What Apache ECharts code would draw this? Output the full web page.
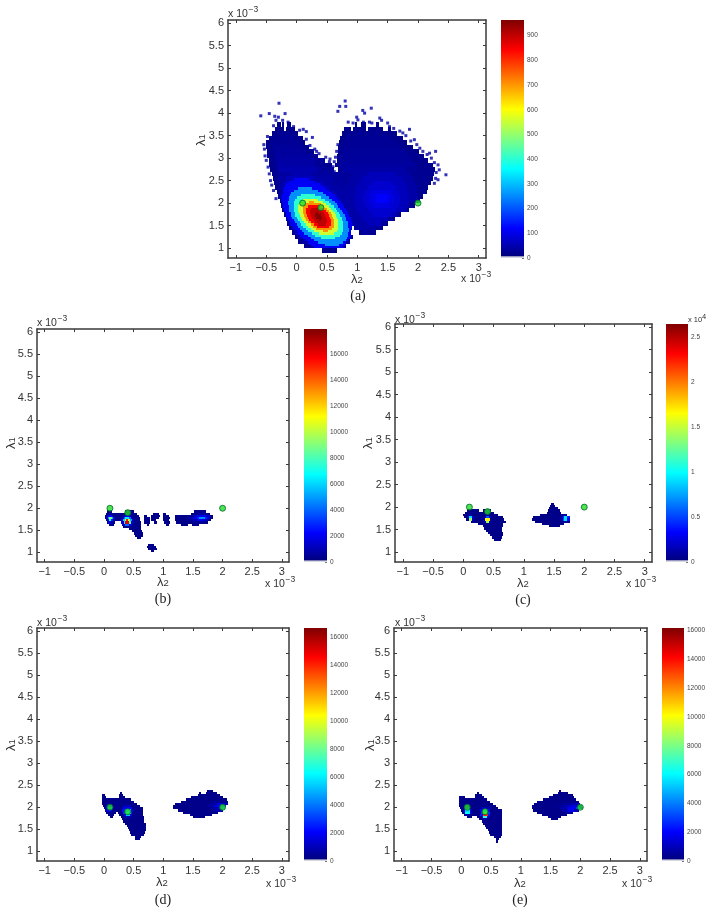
<!DOCTYPE html>
<html>
<head>
<meta charset="utf-8">
<title>lambda histograms</title>
<script src="https://cdn.jsdelivr.net/npm/echarts@6/dist/echarts.min.js"></script>
<style>
html,body{margin:0;padding:0;background:#fff}
#main{width:714px;height:914px;filter:blur(0.6px)}
</style>
</head>
<body>
<div id="main"></div>
<script type="text/javascript">
// tick labels (axes are in units of 1e-3)
var lambda2Ticks = [-1,-0.5,0,0.5,1,1.5,2,2.5,3];
var lambda1Ticks = [1,1.5,2,2.5,3,3.5,4,4.5,5,5.5,6];
var colorTicksA = [0,100,200,300,400,500,600,700,800,900];
var colorTicksB = [0,2000,4000,6000,8000,10000,12000,14000,16000];
var colorTicksC = [0,5000,10000,15000,20000,25000];
var colorTicksD = [0,2000,4000,6000,8000,10000,12000,14000,16000];
var colorTicksE = [0,2000,4000,6000,8000,10000,12000,14000,16000];
var colorMaxA = 963, colorMaxB = 17930, colorMaxC = 26490, colorMaxD = 16670, colorMaxE = 16170;

// the three true (lambda2, lambda1) points
var truePoints = [[0.1,2],[0.4,1.9],[2,2]];

// histogram rows: [lambda1, [lambda2 edge, count, lambda2 edge, count, ..., last edge]]
// panel a, coarse rows (0.1 high)
var rowsA = [
[3.75,[-.32,20,-.26,0,-.24,20,-.2,0,-.16,20,-.1,0,.96,20,1.0,0,1.06,20,1.14,0,1.3,20,1.36]],
[3.65,[-.36,20,-.2,0,-.17,20,-.02,0,.78,25,.9,0,.93,25,1.15,0,1.18,25,1.42,0,1.5,20,1.56]],
[3.55,[-.4,20,-.32,30,-.05,20,.03,0,.75,20,.85,30,1.5,20,1.65]],
[3.45,[-.46,20,-.38,35,0,20,.1,0,.72,20,.8,35,1.55,20,1.75]],
[3.35,[-.5,20,-.42,35,.05,20,.14,0,.7,20,.76,35,1.65,20,1.82]],
[3.25,[-.5,25,-.4,40,.1,25,.2,0,.68,25,.75,35,1.72,20,1.92]],
[3.15,[-.49,25,-.38,45,.16,25,.28,0,.68,25,.75,40,1.8,25,2.02]],
[3.05,[-.48,25,-.36,50,.25,30,.36,0,.66,25,.72,40,1.85,25,2.1]],
[2.95,[-.46,25,-.34,55,.3,35,.46,0,.66,30,.72,45,1.9,25,2.17]],
[2.85,[-.45,25,-.32,60,.3,35,.5,20,.58,0,.64,30,.72,50,1.95,25,2.24]],
[2.75,[-.43,25,-.3,70,.35,40,.58,20,.62,0,.68,30,.75,55,1.15,60,1.8,35,2.0,25,2.28]],
[2.65,[-.41,25,-.3,50,-.1,70,.25,50,.6,40,.93,60,1.16,90,1.64,60,1.87,30,2.27]],
[2.55,[-.39,30,-.3,55,-.18,90,.3,60,.6,40,.88,60,1.07,90,1.73,60,1.92,30,2.25]],
[2.45,[-.37,30,-.28,60,-.2,90,.45,60,.6,45,.85,60,1.02,90,1.25,120,1.55,90,1.78,60,1.95,30,2.22]],
[2.35,[-.35,30,-.28,60,-.22,90,.55,60,.7,50,.82,60,.98,90,1.17,120,1.63,90,1.82,60,1.98,30,2.17]],
[2.25,[-.33,30,-.27,60,-.23,90,.62,60,.81,60,.96,90,1.12,120,1.24,150,1.56,120,1.68,90,1.84,60,1.99,30,2.14]],
[2.15,[-.3,30,-.27,90,.68,60,.8,60,.95,90,1.1,120,1.2,150,1.3,190,1.5,150,1.6,120,1.7,90,1.85,60,2.0,30,2.08]],
[2.05,[-.28,30,-.25,90,.72,60,.8,60,.95,90,1.1,120,1.2,150,1.3,190,1.5,150,1.6,120,1.7,90,1.85,60,1.98,30,2.04]],
[1.95,[-.26,30,-.24,90,.78,60,.81,60,.96,90,1.12,120,1.24,150,1.56,120,1.68,90,1.84,30,1.95]],
[1.85,[-.24,30,-.21,90,.82,60,.98,90,1.17,120,1.63,90,1.8,30,1.85]],
[1.75,[-.21,30,-.18,90,.85,60,1.02,90,1.25,120,1.55,90,1.65,30,1.72]],
[1.65,[-.18,30,-.15,90,.89,60,1.07,90,1.5,30,1.62]],
[1.55,[-.16,30,-.12,90,.93,60,1.16,90,1.4,30,1.5]],
[1.45,[-.13,30,-.08,90,.92,0,.95,30,1.0,60,1.3,30,1.42]],
[1.35,[-.08,30,-.02,90,.9,0,1.02,30,1.1,50,1.2,30,1.3]],
[1.25,[-.03,30,.04,90,.9,30,.93]],
[1.15,[.03,30,.1,60,.2,90,.8,30,.88]],
[1.05,[.12,30,.22,60,.4,90,.7,30,.82]],
[0.95,[.42,25,.66]]
];
// panel a, finer rows around the main peak (0.05 high)
var peakRowsA = [
[2.525,[-.05,180,.20]],
[2.475,[-.13,180,.30]],
[2.425,[-.17,180,.38]],
[2.375,[-.19,180,.44]],
[2.325,[-.21,180,.02,300,.26,180,.49]],
[2.275,[-.22,180,-.05,300,.36,180,.54]],
[2.225,[-.23,180,-.09,300,.44,180,.59]],
[2.175,[-.24,180,-.11,300,.08,420,.31,300,.49,180,.63]],
[2.125,[-.24,180,-.12,300,.01,420,.41,300,.54,180,.66]],
[2.075,[-.24,180,-.13,300,-.02,420,.11,540,.35,420,.47,300,.59,180,.70]],
[2.025,[-.23,180,-.14,300,-.04,420,.06,540,.21,660,.29,540,.43,420,.53,300,.63,180,.73]],
[1.975,[-.23,180,-.14,300,-.05,420,.04,540,.13,660,.40,540,.49,420,.57,300,.66,180,.75]],
[1.925,[-.22,180,-.13,300,-.05,420,.03,540,.11,660,.18,780,.38,660,.45,540,.53,420,.61,300,.69,180,.78]],
[1.875,[-.21,180,-.13,300,-.05,420,.03,540,.10,660,.16,780,.24,870,.36,780,.44,660,.50,540,.57,420,.65,300,.72,180,.81]],
[1.825,[-.20,180,-.12,300,-.04,420,.03,540,.10,660,.16,780,.22,870,.41,780,.48,660,.53,540,.60,420,.67,300,.75,180,.83]],
[1.775,[-.18,180,-.10,300,-.03,420,.04,540,.11,660,.16,780,.22,870,.32,950,.35,870,.45,780,.51,660,.56,540,.63,420,.70,300,.77,180,.85]],
[1.725,[-.17,180,-.09,300,-.02,420,.05,540,.12,660,.17,780,.23,870,.30,950,.40,870,.47,780,.53,660,.58,540,.65,420,.72,300,.79,180,.87]],
[1.675,[-.15,180,-.07,300,0,420,.07,540,.14,660,.19,780,.25,870,.32,950,.42,870,.49,780,.55,660,.60,540,.67,420,.74,300,.81,180,.89]],
[1.625,[-.13,180,-.05,300,.02,420,.09,540,.16,660,.21,780,.28,870,.37,950,.40,870,.50,780,.56,660,.61,540,.68,420,.75,300,.82,180,.90]],
[1.575,[-.11,180,-.03,300,.05,420,.12,540,.19,660,.24,780,.31,870,.50,780,.56,660,.62,540,.69,420,.76,300,.84,180,.92]],
[1.525,[-.09,180,0,300,.07,420,.15,540,.23,660,.28,780,.36,870,.48,780,.56,660,.62,540,.69,420,.77,300,.85,180,.92]],
[1.475,[-.06,180,.03,300,.11,420,.19,540,.27,660,.34,780,.54,660,.61,540,.69,420,.77,300,.85,180,.91]],
[1.425,[-.03,180,.06,300,.15,420,.23,540,.32,660,.59,540,.68,420,.77,300,.86,180,.90]],
[1.375,[0,180,.09,300,.19,420,.29,540,.43,660,.51,540,.66,420,.76,300,.86,180,.90]],
[1.325,[.02,180,.13,300,.25,420,.37,540,.61,420,.74,300,.85,180,.90]],
[1.275,[.06,180,.18,300,.31,420,.71,300,.84,180,.90]],
[1.225,[.10,180,.23,300,.41,420,.64,300,.83,180,.88]],
[1.175,[.14,180,.28,300,.81,180,.85]],
[1.125,[.18,180,.36,300,.76,180,.82]],
[1.075,[.23,180,.46,300,.70,180,.80]],
[1.025,[.28,180,.76]]
];
// panel a, stray single cells outside the two lobes [lambda2, lambda1]
var strayA = [[-.29,4.22],[-.59,3.94],[-.45,3.99],[-.36,3.93],[-.30,3.91],[-.19,3.99],[-.23,3.84],[-.34,3.84],[-.48,3.48],
[.80,4.27],[.81,4.15],[.71,4.15],[.68,4.04],[1.09,4.06],[.99,3.91],[1.23,4.11],[1.12,4.0],[1.37,3.89],[1.40,3.84],
[1.86,3.64],[1.53,3.7],[1.94,3.41],[1.75,3.56],[2.03,3.22],[2.19,3.11],[2.33,2.85],[2.35,2.74],[2.46,2.63],[2.33,2.52],
[2.27,2.44],[2.29,3.15],[.71,2.52],[.79,2.30],[.68,2.63],[.16,3.59],[.05,3.62],[.11,3.64],[.26,3.46],[.33,3.15],
[.44,2.96],[.55,2.98],[.60,2.81],[.93,3.78],[1.01,3.85],[1.20,3.80],
[-.54,3.3],[-.53,3.2],[-.52,3.05],[-.5,2.95],[-.47,2.8],[-.45,2.65],[-.43,2.5],[-.41,2.4],[-.38,2.28],[-.34,2.1],
[.16,3.42],[.22,3.28],[.3,3.2],[.37,3.1],[.48,3.02],[.54,2.92],[.62,2.7],[.68,3.3],[.66,3.15],[.64,3.02],[.62,2.92],
[1.7,3.6],[1.8,3.5],[1.88,3.38],[1.98,3.3],[2.08,3.15],[2.15,3.08],[2.22,3.0],[2.27,2.9],[2.3,2.68],[2.29,2.55],
[1.1,3.8],[1.24,3.78],[.85,3.8],[1.5,3.78],[1.6,3.66],[-.38,3.72],[-.05,3.7],[-.14,3.8]];

// panel b (0.05 high)
var rowsB = [
[1.925,[.05,300,.14,0,.36,300,.5,0,1.52,300,1.72]],
[1.875,[.03,400,.08,900,.14,400,.56,0,.82,300,.92,0,1.0,300,1.05,0,1.46,400,1.6,1000,1.7,400,1.78]],
[1.825,[.02,300,.04,1500,.07,3500,.13,1500,.16,300,.32,1500,.36,3500,.43,1500,.48,300,.59,0,.68,300,.72,0,.8,300,.94,0,1.0,300,1.1,0,1.2,300,1.46,800,1.52,1800,1.56,3200,1.72,1800,1.78,400,1.83]],
[1.775,[.02,800,.05,3000,.07,6000,.09,9000,.13,6000,.15,2500,.18,400,.3,2000,.33,5000,.36,7000,.42,5000,.45,2000,.49,300,.6,0,.67,300,.78,0,.8,300,.92,0,.99,300,1.12,0,1.2,300,1.42,1000,1.5,2500,1.56,4000,1.6,5500,1.7,4000,1.74,2000,1.79,400,1.83]],
[1.725,[.03,800,.06,3000,.08,7500,.12,4000,.15,1000,.18,300,.29,2500,.32,6500,.35,10000,.37,14000,.41,10000,.44,6000,.47,1500,.5,300,.6,0,.67,300,.78,0,.8,300,.88,0,1.0,300,1.1,0,1.2,300,1.42,800,1.5,1800,1.56,3000,1.7,1500,1.76,400,1.8]],
[1.675,[.05,500,.07,2500,.12,600,.18,0,.29,2500,.33,7000,.36,15000,.42,8000,.46,1500,.5,300,.62,0,.67,300,.78,0,.84,300,.9,0,1.02,300,1.12,0,1.22,300,1.5,700,1.68,300,1.76]],
[1.625,[.08,300,.17,0,.31,1500,.35,5000,.42,2500,.48,300,.63,0,.72,300,.76,0,1.05,300,1.1,0,1.3,300,1.42,0,1.48,300,1.6]],
[1.575,[.32,300,.63]],
[1.525,[.43,300,.63]],
[1.475,[.47,300,.64]],
[1.425,[.5,300,.66]],
[1.375,[.52,300,.65]],
[1.325,[.55,300,.62]],
[1.175,[.75,300,.84]],
[1.125,[.73,300,.87]],
[1.075,[.74,300,.89]],
[1.025,[.79,300,.85]]
];

// panel c (0.05 high)
var rowsC = [
[2.075,[1.45,400,1.5]],
[2.025,[1.43,400,1.52]],
[1.975,[1.41,400,1.56]],
[1.925,[.06,400,.26,0,.32,400,.45,0,1.4,400,1.6]],
[1.875,[.02,400,.5,0,1.39,400,1.61]],
[1.825,[0,400,.07,1500,.15,400,.36,1200,.44,400,.58,0,1.27,400,1.62,1500,1.71]],
[1.775,[.01,400,.07,3500,.09,10000,.15,3500,.17,400,.34,2000,.37,7000,.43,2000,.46,400,.65,0,1.15,400,1.6,1500,1.64,6000,1.66,10000,1.72,6000,1.76]],
[1.725,[.04,400,.07,2500,.09,14000,.15,2500,.18,400,.33,3000,.36,16000,.44,3000,.46,400,.68,0,1.13,400,1.6,1500,1.64,7000,1.66,10000,1.72,5000,1.77]],
[1.675,[.12,400,.34,2000,.37,14000,.43,2000,.46,400,.7,0,1.19,400,1.64,1200,1.72,400,1.76]],
[1.625,[.25,400,.36,800,.43,400,.66,0,1.3,400,1.66]],
[1.575,[.32,400,.65,0,1.42,400,1.6]],
[1.525,[.35,400,.64]],
[1.475,[.37,400,.64]],
[1.425,[.41,400,.65]],
[1.375,[.44,400,.66]],
[1.325,[.47,400,.64]],
[1.275,[.5,400,.63]]
];

// panel d (0.05 high)
var rowsD = [
[2.375,[1.74,300,1.84]],
[2.325,[.27,300,.31,0,1.6,300,1.64,0,1.72,300,1.9]],
[2.275,[-.03,300,.01,0,.26,300,.32,0,1.58,300,1.95]],
[2.225,[-.03,300,.03,0,.25,300,.35,0,1.47,300,2.0]],
[2.175,[-.03,300,.45,0,1.39,300,2.08]],
[2.125,[-.03,300,.5,0,1.3,300,1.85,700,1.95,300,2.09]],
[2.075,[-.03,300,.05,1000,.13,300,.56,0,1.2,300,1.8,1000,1.9,2500,2.0,1500,2.09]],
[2.025,[-.02,300,.03,2500,.15,400,.33,1500,.46,300,.61,0,1.16,300,1.75,1000,1.85,2500,1.95,4000,2.06]],
[1.975,[0,400,.03,3000,.06,5000,.14,2500,.17,300,.32,3000,.47,300,.66,0,1.17,300,1.8,1000,1.9,2500,1.97,5000,2.04]],
[1.925,[.01,300,.04,2500,.13,1000,.16,300,.31,3500,.35,6000,.45,3000,.49,300,.66,0,1.25,300,1.85,1200,2.0]],
[1.875,[.04,300,.2,0,.24,300,.32,4000,.35,7000,.45,4000,.48,300,.66,0,1.33,300,1.92]],
[1.825,[.06,300,.17,0,.25,300,.33,3000,.37,6000,.44,2500,.47,300,.66,0,1.45,300,1.82]],
[1.775,[.1,300,.16,0,.28,300,.35,1500,.45,300,.67,0,1.5,300,1.7]],
[1.725,[.3,300,.68]],
[1.675,[.32,300,.68]],
[1.625,[.36,300,.7]],
[1.575,[.38,300,.7]],
[1.525,[.4,300,.7]],
[1.475,[.42,300,.7]],
[1.425,[.44,300,.69]],
[1.375,[.46,300,.68]],
[1.325,[.52,300,.62]],
[1.275,[.53,300,.6]]
];

// panel e (0.05 high)
var rowsE = [
[2.375,[1.65,300,1.68]],
[2.325,[.26,300,.3,0,1.62,300,1.79]],
[2.275,[.23,300,.34,0,1.54,300,1.87]],
[2.225,[-.03,300,.06,0,.23,300,.38,0,1.48,300,1.9]],
[2.175,[-.03,300,.44,0,1.38,300,1.93]],
[2.125,[-.03,300,.49,0,1.28,300,1.97]],
[2.075,[-.03,300,.54,0,1.22,300,1.7,700,1.85,1200,2.0]],
[2.025,[-.03,300,.04,1200,.14,300,.58,0,1.19,300,1.65,800,1.75,1500,1.85,2500,1.95,1500,2.03]],
[1.975,[-.02,300,.04,2500,.15,400,.33,1500,.46,300,.62,0,1.19,300,1.65,1000,1.78,2800,1.92,4000,2.0,3000,2.05]],
[1.925,[0,300,.04,3000,.07,6000,.14,3000,.17,300,.32,3000,.36,6000,.44,3000,.48,300,.68,0,1.2,300,1.7,1200,1.8,2800,1.9,1200,1.97]],
[1.875,[.02,300,.05,2500,.07,6500,.14,2000,.18,300,.33,4000,.36,9000,.44,4000,.48,300,.69,0,1.27,300,1.75,700,1.87]],
[1.825,[.04,300,.07,1200,.13,300,.32,3500,.36,12500,.45,3500,.48,300,.69,0,1.36,300,1.78]],
[1.775,[.1,300,.18,0,.26,300,.34,3000,.37,7000,.44,2500,.47,300,.69,0,1.46,300,1.68]],
[1.725,[.3,300,.36,1200,.44,300,.69,0,1.5,300,1.62]],
[1.675,[.34,300,.69]],
[1.625,[.37,300,.69]],
[1.575,[.4,300,.69]],
[1.525,[.42,300,.69]],
[1.475,[.45,300,.69]],
[1.425,[.47,300,.69]],
[1.375,[.49,300,.68]],
[1.325,[.55,300,.66]],
[1.275,[.58,300,.63]],
[1.225,[.59,300,.62]]
];

var jetColors = ['#00007f','#0000ff','#00ffff','#ffff00','#ff0000','#7f0000'];
var jetStops = [
	{offset:0,color:'#d8d8e0'},{offset:0.006,color:'#d8d8e0'},{offset:0.007,color:'#00007f'},
	{offset:0.125,color:'#0000ff'},{offset:0.375,color:'#00ffff'},{offset:0.625,color:'#ffff00'},
	{offset:0.875,color:'#ff0000'},{offset:1,color:'#7f0000'}
];
var axisColor = '#3a3a3a', textColor = '#333';
var xMin = -1.13, xMax = 3.12, yMin = 0.78, yMax = 6.07;

// frame = plot box, bar = colorbar left/width, others are label anchors
var panels = [
	{name:'(a)',rows:[[rowsA,0.1],[peakRowsA,0.05]],stray:strayA,max:colorMaxA,ticks:colorTicksA,
	 frame:[228,20,258,238],bar:[501,23],top:[228,13],side:[461,278],lx:[357,279],cap:[358,296],ly:[201,140]},
	{name:'(b)',rows:[[rowsB,0.05]],max:colorMaxB,ticks:colorTicksB,
	 frame:[37,329,252,233],bar:[304,23],top:[37,322],side:[265,583],lx:[163,582],cap:[163,599],ly:[11,443]},
	{name:'(c)',rows:[[rowsC,0.05]],max:colorMaxC,ticks:colorTicksC,scale:10000,
	 frame:[395,324,257,238],bar:[666,22],top:[395,319],side:[626,583],lx:[523,583],cap:[523,600],ly:[368,443]},
	{name:'(d)',rows:[[rowsD,0.05]],max:colorMaxD,ticks:colorTicksD,
	 frame:[37,628,252,233],bar:[304,23],top:[37,622],side:[266,883],lx:[162,882],cap:[163,900],ly:[11,745]},
	{name:'(e)',rows:[[rowsE,0.05]],max:colorMaxE,ticks:colorTicksE,
	 frame:[394,628,253,233],bar:[662,22],top:[395,622],side:[622,883],lx:[520,883],cap:[520,900],ly:[370,745]}
];

// rows -> [x0, x1, y, h, count]
function toCells(list){
	var cells = [];
	list.forEach(function(item){
		item[0].forEach(function(row){
			var e = row[1];
			for(var i = 0; i + 2 < e.length; i += 2){
				if(e[i+1] > 0) cells.push([e[i],e[i+2],row[0],item[1],e[i+1]]);
			}
		});
	});
	return cells;
}

function renderCell(params, api){
	var p0 = api.coord([api.value(0),api.value(2)+api.value(3)/2]);
	var p1 = api.coord([api.value(1),api.value(2)-api.value(3)/2]);
	var x = Math.round(p0[0]), y = Math.round(p0[1]);
	return {type:'rect',
		shape:{x:x,y:y,width:Math.max(1,Math.round(p1[0])-x),height:Math.max(1,Math.round(p1[1])-y)},
		style:{fill:api.visual('color')}};
}

function tickText(v){
	return v < 0 ? '\u2212' + Math.abs(v) : String(v);
}

function frameAxis(grid, pos, ticks, labels, min, max){
	return {type:'value',gridIndex:grid,position:pos,min:min,max:max,
		axisLine:{show:true,onZero:false,lineStyle:{color:axisColor,width:1.5}},
		axisTick:{show:true,inside:true,length:3,customValues:ticks,lineStyle:{color:axisColor,width:1}},
		axisLabel:{show:labels,customValues:ticks,margin:4,fontSize:11,color:textColor,formatter:tickText,hideOverlap:false},
		splitLine:{show:false}};
}

function textEl(x, y, text, rich, extra){
	var style = {x:0,y:0,text:text,rich:rich,fill:textColor,align:'center',verticalAlign:'middle',
		font:'11px "Liberation Sans"'};
	for(var k in extra) style[k] = extra[k];
	return {type:'text',x:x,y:y,rotation:style.rot||0,style:style,z:20};
}

// "x 10" with a raised exponent, as two texts
function expEls(x, y, exponent, size, supSize, gap, raise){
	return [
		textEl(x,y,'x 10',null,{align:'left',font:size+'px "Liberation Sans"'}),
		textEl(x+gap,y-raise,exponent,null,{align:'left',font:supSize+'px "Liberation Sans"'})
	];
}

var lambdaRich = {
	l:{fontSize:13,fontFamily:'Liberation Sans',fill:textColor,verticalAlign:'top',lineHeight:13},
	s:{fontSize:9.5,fontFamily:'Liberation Sans',fill:textColor,verticalAlign:'bottom',lineHeight:10,padding:[8,0,0,0]}
};

var option = {
	animation:false,
	backgroundColor:'#fff',
	textStyle:{fontFamily:'Liberation Sans'},
	grid:[],xAxis:[],yAxis:[],series:[],visualMap:[],graphic:[]
};

panels.forEach(function(p){
	var plotGrid = option.grid.length;
	var barGrid = plotGrid + 1;
	option.grid.push({left:p.frame[0],top:p.frame[1],width:p.frame[2],height:p.frame[3]});
	option.grid.push({left:p.bar[0],top:p.frame[1],width:p.bar[1],height:p.frame[3]});

	var xi = option.xAxis.length, yi = option.yAxis.length;
	option.xAxis.push(frameAxis(plotGrid,'bottom',lambda2Ticks,true,xMin,xMax));
	option.xAxis.push(frameAxis(plotGrid,'top',lambda2Ticks,false,xMin,xMax));
	option.yAxis.push(frameAxis(plotGrid,'left',lambda1Ticks,true,yMin,yMax));
	option.yAxis.push(frameAxis(plotGrid,'right',lambda1Ticks,false,yMin,yMax));

	// colorbar axes
	option.xAxis.push({type:'category',gridIndex:barGrid,data:['c'],show:false});
	option.yAxis.push({type:'value',gridIndex:barGrid,position:'right',min:0,max:p.max,
		axisLine:{show:false},
		axisTick:{show:true,inside:true,length:2,customValues:p.ticks,lineStyle:{color:'#555',width:0.8}},
		axisLabel:{show:true,customValues:p.ticks,margin:3,fontSize:6.5,color:'#444',hideOverlap:false,
			formatter:(function(scale){return function(v){return String(scale ? v/scale : v);};})(p.scale)},
		splitLine:{show:false}});

	var cellSeries = option.series.length;
	option.series.push({type:'custom',xAxisIndex:xi,yAxisIndex:yi,renderItem:renderCell,
		data:toCells(p.rows),encode:{x:[0,1],y:2},silent:true,progressive:0});
	option.visualMap.push({type:'continuous',show:false,seriesIndex:cellSeries,dimension:4,
		min:0,max:p.max,inRange:{color:jetColors}});

	if(p.stray){
		option.series.push({type:'scatter',xAxisIndex:xi,yAxisIndex:yi,data:p.stray,symbol:'rect',
			symbolSize:3,itemStyle:{color:'#0000a8'},silent:true,z:2});
	}
	option.series.push({type:'scatter',xAxisIndex:xi,yAxisIndex:yi,data:truePoints,symbol:'circle',
		symbolSize:6,itemStyle:{color:'#22dd22',borderColor:'#063',borderWidth:1},silent:true,z:5});
	option.series.push({type:'bar',xAxisIndex:xi+2,yAxisIndex:yi+2,data:[p.max],barWidth:'100%',silent:true,
		itemStyle:{color:new echarts.graphic.LinearGradient(0,1,0,0,jetStops)}});

	option.graphic.push(textEl(p.lx[0],p.lx[1],'{l|\u03bb}{s|2}',lambdaRich));
	option.graphic.push(textEl(p.ly[0],p.ly[1],'{l|\u03bb}{s|1}',lambdaRich,{rot:Math.PI/2}));
	option.graphic = option.graphic.concat(expEls(p.top[0],p.top[1]+1,'\u22123',10.5,8.5,20.5,4));
	option.graphic = option.graphic.concat(expEls(p.side[0],p.side[1]+1,'\u22123',10.5,8.5,20.5,4));
	option.graphic.push(textEl(p.cap[0],p.cap[1],p.name,null,{font:'14px "Liberation Serif"',fill:'#222'}));
	if(p.scale){
		option.graphic = option.graphic.concat(expEls(p.bar[0]+p.bar[1],p.top[1]+1,'4',7.5,7.5,14,3));
	}
});

var chart = echarts.init(document.getElementById('main'),null,{renderer:'canvas'});
chart.setOption(option);
</script>
</body>
</html>
